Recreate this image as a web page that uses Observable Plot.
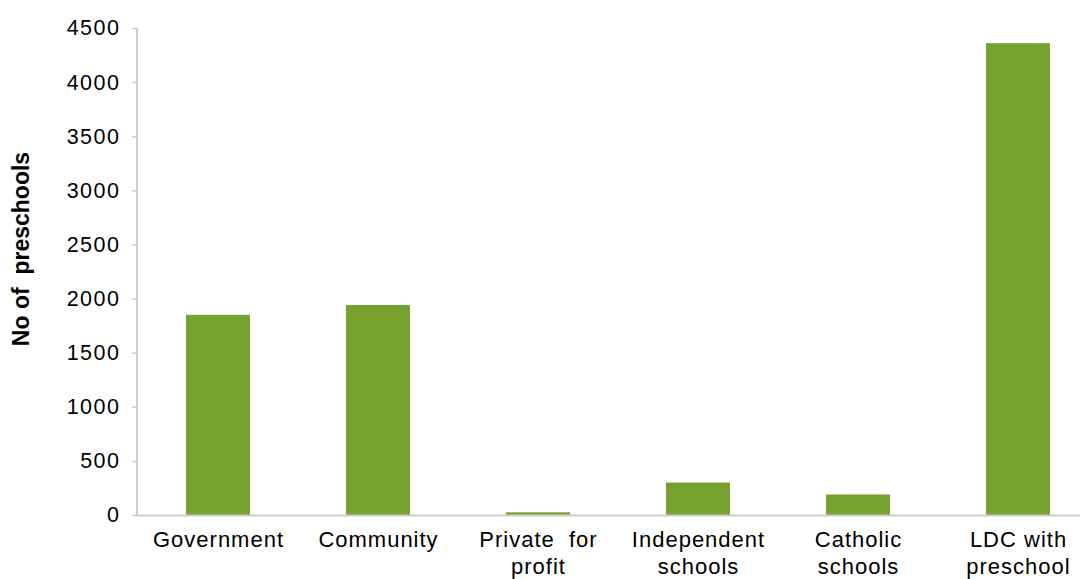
<!DOCTYPE html>
<html>
<head>
<meta charset="utf-8">
<script src="https://cdn.jsdelivr.net/npm/d3@7"></script>
<script src="https://cdn.jsdelivr.net/npm/@observablehq/plot@0.6"></script>
<style>
  html, body { margin: 0; padding: 0; background: #fff; }
  svg text { white-space: pre; }
  g[aria-label="x-axis tick label"] text { letter-spacing: 1px; }
  g[aria-label="y-axis tick label"] text { letter-spacing: 1.5px; }
</style>
</head>
<body>
<div id="chart"></div>
<script>
const categories = ["Government", "Community", "Private  for\nprofit", "Independent\nschools", "Catholic\nschools", "LDC with\npreschool"];
const values = [1850, 1940, 25, 300, 190, 4360];
const yTicks = [0, 500, 1000, 1500, 2000, 2500, 3000, 3500, 4000, 4500];
const yLabel = "No of  preschools";

const data = categories.map((c, i) => ({category: c, value: values[i]}));

const chart = Plot.plot({
  width: 1080,
  height: 579,
  marginTop: 28,
  marginBottom: 64,
  marginLeft: 138,
  marginRight: 0,
  style: {fontFamily: "Liberation Sans, Arial, sans-serif", fontSize: "21px", color: "#000", background: "#fff"},
  x: {domain: categories, range: [138, 1098], paddingInner: 0.6, paddingOuter: 0.3},
  y: {domain: [0, 4500]},
  marks: [
    Plot.barY(data, {x: "category", y: "value", fill: "#78A22F"}),
    Plot.ruleY([0], {stroke: "#cccccc", strokeWidth: 2}),
    Plot.axisY({ticks: yTicks, tickSize: 6, tickPadding: 12, stroke: "#cccccc", strokeWidth: 1.5, fill: "#000", fontSize: 21.5, label: null, tickFormat: d => String(d)}),
    Plot.axisX({tickSize: 0, tickPadding: 13, fontSize: 22, fill: "#000", label: null, lineHeight: 1.2}),
    Plot.text([yLabel], {frameAnchor: "left", dx: -117, dy: -23, rotate: -90, fontWeight: "bold", fontSize: 23, fill: "#000", textAnchor: "middle"})
  ]
});

// left axis line drawn via the plot's own y scale
const ys = chart.scale("y");
const svg = d3.select(chart);
svg.append("line")
  .attr("x1", 137).attr("x2", 137)
  .attr("y1", ys.apply(4500)).attr("y2", ys.apply(0) + 1)
  .attr("stroke", "#cccccc").attr("stroke-width", 2);

document.getElementById("chart").appendChild(chart);
</script>
</body>
</html>
